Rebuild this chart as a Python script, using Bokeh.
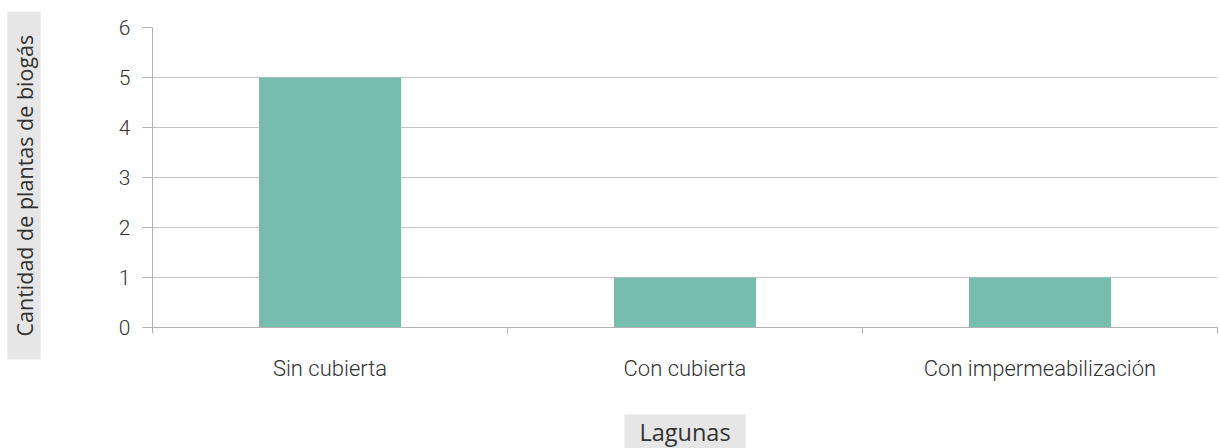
from bokeh.plotting import figure
from bokeh.models import FixedTicker, Title, Range1d
from bokeh.embed import file_html
from bokeh.resources import INLINE

categories = ["Sin cubierta", "Con cubierta", "Con impermeabilización"]
counts = [5, 1, 1]
y_ticks = [0, 1, 2, 3, 4, 5, 6]
y_title = "Cantidad de plantas de biogás"
x_title = "Lagunas"

FONT = "Roboto Light"
TFONT = "Open Sans"
TXT = "#333333"
AX = "#b3b3b3"
BAR = "#76bdad"
BOX = "#e6e6e6"

centers = [i + 0.5 for i in range(len(categories))]
bounds = [float(i) for i in range(len(categories) + 1)]

p = figure(width=1219, height=448, output_backend="svg", toolbar_location=None,
           x_range=Range1d(0, len(categories)), y_range=Range1d(0, max(y_ticks)),
           min_border_left=152, min_border_right=2, min_border_top=27, min_border_bottom=121)
p.outline_line_color = None
p.background_fill_color = "white"

p.vbar(x=centers, top=counts, width=0.4, fill_color=BAR, line_color=None)

# y axis
ya = p.yaxis[0]
ya.ticker = FixedTicker(ticks=y_ticks)
ya.axis_line_color = AX
ya.major_tick_line_color = AX
ya.major_tick_out = 10
ya.major_tick_in = 0
ya.minor_tick_line_color = None
ya.major_label_standoff = 12
ya.major_label_text_font = FONT
ya.major_label_text_font_size = "21px"
ya.major_label_text_color = TXT

# x axis
xa = p.xaxis[0]
xa.ticker = FixedTicker(ticks=centers, minor_ticks=bounds)
xa.axis_line_color = AX
xa.major_tick_line_color = None
xa.minor_tick_line_color = AX
xa.minor_tick_out = 6
xa.minor_tick_in = 0
xa.major_label_overrides = {c: lab for c, lab in zip(centers, categories)}
xa.major_label_standoff = 22
xa.major_label_text_font = FONT
xa.major_label_text_font_size = "22px"
xa.major_label_text_color = TXT

p.xgrid.grid_line_color = None
p.ygrid.grid_line_color = "#c4c4c4"
p.ygrid.ticker = FixedTicker(ticks=y_ticks)

# spacers between axes and the boxed titles
p.add_layout(Title(text=" ", text_font_size="1px", standoff=22), "left")
p.add_layout(Title(text=" ", text_font_size="1px", standoff=26), "below")

yt = Title(text=y_title, align="left", vertical_align="top", offset=-32,
           text_font=TFONT, text_font_size="21.5px",
           text_font_style="normal", text_color=TXT, background_fill_color=BOX,
           standoff=12, padding=(23, 2))
p.add_layout(yt, "left")

xt = Title(text=x_title, align="center", vertical_align="bottom",
           text_font=TFONT, text_font_size="23.5px",
           text_font_style="normal", text_color=TXT, background_fill_color=BOX,
           standoff=0, padding=(15, 1))
p.add_layout(xt, "below")

open("out.html", "w").write(file_html(p, INLINE))
